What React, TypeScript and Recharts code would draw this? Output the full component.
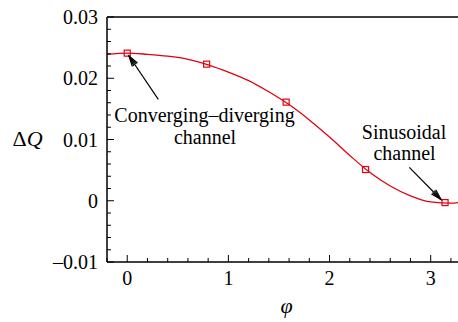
import { ComposedChart, Line, ReferenceLine, Scatter, XAxis, YAxis } from 'recharts';

// curve (phi in rad, delta Q)
const curvePhi = [-0.2, 0, 0.2, 0.4, 0.6, 0.8, 1.0, 1.2, 1.4, 1.6, 1.8, 2.0, 2.2, 2.4, 2.6, 2.8, 3.0, 3.2, 3.27];
const curveDq = [0.0239, 0.0241, 0.0239, 0.0236, 0.0231, 0.0222, 0.021, 0.0196, 0.0178, 0.0157, 0.0132, 0.0104, 0.0074, 0.0046, 0.0024, 0.0008, -0.0002, -0.0004, -0.0003];

// square markers at 0, pi/4, pi/2, 3pi/4, pi
const markerPhi = [0, 0.785, 1.571, 2.356, 3.142];
const markerDq = [0.0241, 0.0223, 0.0161, 0.0051, -0.0003];

const xTicks = [-0.2, 0, 0.2, 0.4, 0.6, 0.8, 1, 1.2, 1.4, 1.6, 1.8, 2, 2.2, 2.4, 2.6, 2.8, 3, 3.2];
const yTicks = [-0.01, -0.008, -0.006, -0.004, -0.002, 0, 0.002, 0.004, 0.006, 0.008, 0.01, 0.012, 0.014, 0.016, 0.018, 0.02, 0.022, 0.024, 0.026, 0.028, 0.03];
const xMajor = [0, 1, 2, 3];
const yMajor = [-0.01, 0, 0.01, 0.02, 0.03];

const curveData = curvePhi.map((phi, i) => ({ phi, dq: curveDq[i] }));
const markerData = markerPhi.map((phi, i) => ({ phi, dq: markerDq[i] }));

const RED = '#e3000f';
const FONT = 'Liberation Serif';

const isIn = (v: number, list: number[]) => list.some((m) => Math.abs(m - v) < 1e-9);

const fmtY = (v: number) => {
  if (Math.abs(v) < 1e-12) return '0';
  const s = Math.abs(v).toFixed(2);
  return v < 0 ? `\u2013${s}` : s;
};

const YTick = (props: any) => {
  const { x, y, payload } = props;
  const major = isIn(payload.value, yMajor);
  return (
    <g>
      <line x1={x} x2={x + (major ? 7 : 4)} y1={y} y2={y} stroke="#000" strokeWidth={1} />
      {major && (
        <text x={x - 9} y={y} textAnchor="end" dominantBaseline="central" fontFamily={FONT} fontSize={20} fill="#000">
          {fmtY(payload.value)}
        </text>
      )}
    </g>
  );
};

const XTick = (props: any) => {
  const { x, y, payload } = props;
  const major = isIn(payload.value, xMajor);
  return (
    <g>
      <line x1={x} x2={x} y1={y} y2={y - (major ? 7 : 4)} stroke="#000" strokeWidth={1} />
      {major && (
        <text x={x} y={y + 16} textAnchor="middle" dominantBaseline="central" fontFamily={FONT} fontSize={20} fill="#000">
          {payload.value}
        </text>
      )}
    </g>
  );
};

const SquareMarker = (props: any) => {
  const { cx, cy } = props;
  return <rect x={cx - 3} y={cy - 3} width={6} height={6} fill="none" stroke={RED} strokeWidth={1.2} />;
};

function Arrow({ x1, y1, x2, y2 }: { x1: number; y1: number; x2: number; y2: number }) {
  const a = Math.atan2(y2 - y1, x2 - x1);
  const len = 11;
  const spread = 0.28;
  const b1 = [x2 - len * Math.cos(a - spread), y2 - len * Math.sin(a - spread)];
  const b2 = [x2 - len * Math.cos(a + spread), y2 - len * Math.sin(a + spread)];
  const c1 = [x2 - len * Math.cos(a - spread / 2), y2 - len * Math.sin(a - spread / 2)];
  const c2 = [x2 - len * Math.cos(a + spread / 2), y2 - len * Math.sin(a + spread / 2)];
  return (
    <g stroke="#000" strokeWidth={1.2} fill="none">
      <line x1={x1} y1={y1} x2={x2} y2={y2} />
      <polyline points={`${b1[0]},${b1[1]} ${x2},${y2} ${b2[0]},${b2[1]}`} />
      <polyline points={`${c1[0]},${c1[1]} ${x2},${y2} ${c2[0]},${c2[1]}`} />
    </g>
  );
}

// html labels, positioned by their centre
function Note({ x, y, children, size = 20, italic = false }: any) {
  return (
    <div
      className="serif-note"
      style={{
        position: 'absolute',
        left: x - 150,
        top: y - 15,
        width: 300,
        height: 30,
        lineHeight: '30px',
        textAlign: 'center',
        fontFamily: FONT,
        fontSize: size,
        fontStyle: italic ? 'italic' : 'normal',
        color: '#000',
        whiteSpace: 'nowrap',
        pointerEvents: 'none',
      }}
    >
      {children}
    </div>
  );
}

const css = `
#root #fig, #root #fig *, #root #fig svg text, #root #fig svg tspan {
  font-family: "Liberation Serif" !important;
}
`;

export default function App() {
  return (
    <div id="fig" style={{ position: 'absolute', left: 0, top: 0, width: 458, height: 322, background: '#fff' }}>
      <style>{css}</style>
      <ComposedChart
        width={458}
        height={322}
        data={curveData}
        margin={{ top: 17, right: 0, bottom: 30, left: 47 }}
      >
        <XAxis
          type="number"
          dataKey="phi"
          domain={[-0.2, 3.27]}
          allowDataOverflow
          ticks={xTicks}
          interval={0}
          tickSize={0}
          tickMargin={0}
          tickLine={false}
          tick={<XTick />}
          height={30}
          axisLine={{ stroke: '#000', strokeWidth: 1.5 }}
        />
        <YAxis
          type="number"
          domain={[-0.01, 0.03]}
          allowDataOverflow
          ticks={yTicks}
          interval={0}
          tickSize={0}
          tickMargin={0}
          tickLine={false}
          tick={<YTick />}
          width={60}
          axisLine={{ stroke: '#000', strokeWidth: 1.5 }}
        />
        <ReferenceLine y={0.03} stroke="#000" strokeWidth={1.5} />
        <Line
          dataKey="dq"
          type="monotone"
          stroke={RED}
          strokeWidth={1.3}
          dot={false}
          activeDot={false}
          isAnimationActive={false}
        />
        <Scatter data={markerData} dataKey="dq" shape={<SquareMarker />} isAnimationActive={false} />
      </ComposedChart>
      <svg width={458} height={322} style={{ position: 'absolute', left: 0, top: 0, pointerEvents: 'none' }}>
        <Arrow x1={158.3} y1={99.3} x2={129} y2={56} />
        <Arrow x1={409.3} y1={167.3} x2={441} y2={199.5} />
      </svg>
      <Note x={27.5} y={139} size={22}>
        {'\u0394'}
        <i>Q</i>
      </Note>
      <Note x={286.5} y={306} size={22} italic>
        {'\u03c6'}
      </Note>
      <Note x={204.5} y={115}>Converging{'\u2013'}diverging</Note>
      <Note x={205} y={137}>channel</Note>
      <Note x={404} y={132}>Sinusoidal</Note>
      <Note x={404.5} y={153}>channel</Note>
    </div>
  );
}
